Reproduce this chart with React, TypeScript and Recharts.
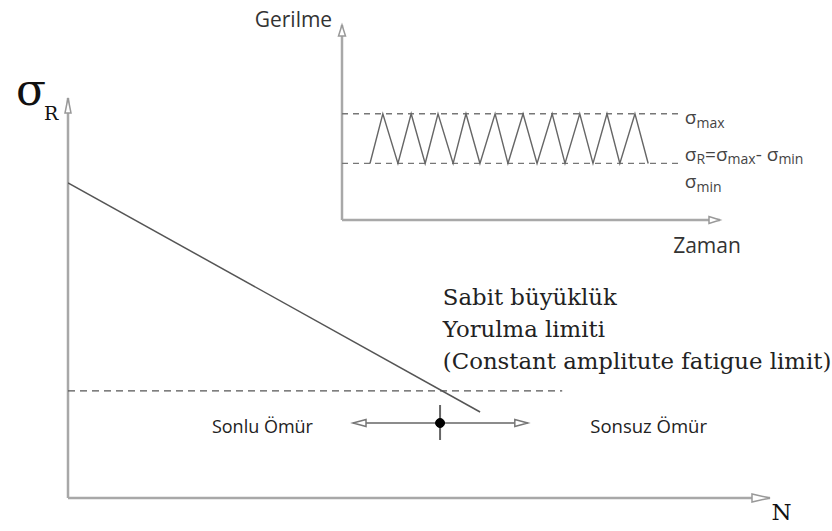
import React from 'react';
import { ComposedChart, Line, XAxis, YAxis, ReferenceLine, ReferenceDot } from 'recharts';

// ---------- Main S-N diagram (N: 0..100, σR: 0..100) ----------
const snCurveX = [0, 58.7];
const snCurveY = [78.8, 21.5];
const fatigueLimit = 26.8;
const fatigueLimitEndN = 70.4;
const limitN = 53.0;
const limitTickY = [14.5, 23.25];
const lifeArrowY = 18.75;
const lifeArrowX = [40.6, 65.5];

// ---------- Inset: stress vs time (0..100 both) ----------
const sigmaMax = 54.5;
const sigmaMin = 29;
const dashedEndT = 88.9;
const cycleT = [7.4, 10.8, 14.8, 18.3, 22.0, 25.4, 29.4, 32.8, 36.5, 40.5, 43.9, 47.9, 51.6, 55.6, 59.0, 62.9, 66.4, 70.1, 73.5, 77.5, 81.0];
const cycleS = [29, 54.5, 29, 54.5, 29, 54.5, 29, 54.5, 29, 54.5, 29, 54.5, 29, 54.5, 29, 54.5, 29, 54.5, 29, 54.5, 29];

const snData = snCurveX.map((x, i) => ({ x, y: snCurveY[i] }));
const cycleData = cycleT.map((x, i) => ({ x, y: cycleS[i] }));

const SANS = '"Open Sans", sans-serif';
const SERIF = '"DejaVu Serif", serif';

type Dir = 'up' | 'down' | 'left' | 'right';
const arrowHead = (dir: Dir, len: number, half: number, stroke: string) => (p: any) => {
  const { cx, cy } = p;
  let pts = '';
  if (dir === 'up') pts = `${cx},${cy} ${cx - half},${cy + len} ${cx + half},${cy + len}`;
  if (dir === 'right') pts = `${cx},${cy} ${cx - len},${cy - half} ${cx - len},${cy + half}`;
  if (dir === 'left') pts = `${cx},${cy} ${cx + len},${cy - half} ${cx + len},${cy + half}`;
  return <polygon points={pts} fill="#fff" stroke={stroke} strokeWidth={1.5} strokeLinejoin="miter" />;
};

const textShape = (content: React.ReactNode, opts: { anchor?: 'start' | 'end' | 'middle'; size: number; family: string; fill?: string }) => (p: any) => (
  <text x={p.cx} y={p.cy} textAnchor={opts.anchor || 'start'} fontSize={opts.size} fontFamily={opts.family} fill={opts.fill || '#222'}>
    {content}
  </text>
);

const SIG = 19;
const SUB = 14;
const sigmaSub = (sub: string) => (
  <>
    <tspan fontSize={SIG}>σ</tspan>
    <tspan fontSize={SUB} dy={4}>{sub}</tspan>
  </>
);

const AXIS_GRAY = '#a8a8a8';
const LINE_GRAY = '#555';

export default function App() {
  return (
    <div style={{ position: 'absolute', left: 0, top: 0, width: 832, height: 531, background: '#fff' }}>
      {/* Main chart */}
      <div style={{ position: 'absolute', left: 0, top: 0 }}>
        <ComposedChart width={832} height={531} margin={{ top: 98, right: 62, bottom: 33, left: 68 }} data={snData}>
          <XAxis type="number" dataKey="x" domain={[0, 100]} hide allowDataOverflow />
          <YAxis type="number" domain={[0, 100]} hide allowDataOverflow />
          <ReferenceLine y={0} stroke={AXIS_GRAY} strokeWidth={2.5} ifOverflow="visible" />
          <ReferenceLine x={0} stroke={AXIS_GRAY} strokeWidth={2.5} ifOverflow="visible" />
          <ReferenceDot x={100} y={0} ifOverflow="visible" shape={arrowHead('right', 18, 4, '#999')} />
          <ReferenceDot x={0} y={100} ifOverflow="visible" shape={arrowHead('up', 15, 3, '#999')} />
          <ReferenceLine
            segment={[{ x: 0, y: fatigueLimit }, { x: fatigueLimitEndN, y: fatigueLimit }]}
            stroke={LINE_GRAY}
            strokeWidth={1.3}
            strokeDasharray="7 5"
            ifOverflow="visible"
          />
          <Line data={snData} dataKey="y" type="linear" stroke={LINE_GRAY} strokeWidth={1.5} dot={false} isAnimationActive={false} />
          <ReferenceLine
            segment={[{ x: lifeArrowX[0], y: lifeArrowY }, { x: lifeArrowX[1], y: lifeArrowY }]}
            stroke="#666"
            strokeWidth={1.3}
            ifOverflow="visible"
          />
          <ReferenceLine
            segment={[{ x: limitN, y: limitTickY[0] }, { x: limitN, y: limitTickY[1] }]}
            stroke="#666"
            strokeWidth={2}
            ifOverflow="visible"
          />
          <ReferenceDot x={lifeArrowX[0]} y={lifeArrowY} ifOverflow="visible" shape={arrowHead('left', 13, 3.5, '#777')} />
          <ReferenceDot x={lifeArrowX[1]} y={lifeArrowY} ifOverflow="visible" shape={arrowHead('right', 13, 3.5, '#777')} />
          <ReferenceDot x={limitN} y={lifeArrowY} r={4.5} fill="#000" stroke="#000" ifOverflow="visible" />

          {/* labels */}
          <ReferenceDot
            x={-7.4}
            y={98.25}
            ifOverflow="visible"
            shape={textShape(
              <>
                <tspan fontSize={44}>σ</tspan>
                <tspan fontSize={19} dx={-2} dy={15}>R</tspan>
              </>,
              { size: 44, family: SERIF, fill: '#111' }
            )}
          />
          <ReferenceDot x={100.2} y={-5.5} ifOverflow="visible" shape={textShape('N', { size: 23, family: SERIF, fill: '#111' })} />
          <ReferenceDot x={34.9} y={16.25} ifOverflow="visible" shape={textShape('Sonlu Ömür', { anchor: 'end', size: 18, family: SANS })} />
          <ReferenceDot x={74.4} y={16.25} ifOverflow="visible" shape={textShape('Sonsuz Ömür', { size: 18.5, family: SANS })} />
          <ReferenceDot x={53.4} y={48.25} ifOverflow="visible" shape={textShape('Sabit büyüklük', { size: 22.8, family: SERIF })} />
          <ReferenceDot x={53.4} y={40.25} ifOverflow="visible" shape={textShape('Yorulma limiti', { size: 22.8, family: SERIF })} />
          <ReferenceDot x={53.4} y={32.25} ifOverflow="visible" shape={textShape('(Constant amplitute fatigue limit)', { size: 22.8, family: SERIF })} />
        </ComposedChart>
      </div>

      {/* Inset chart */}
      <div style={{ position: 'absolute', left: 0, top: 0 }}>
        <ComposedChart width={832} height={531} margin={{ top: 25, right: 112, bottom: 311, left: 342 }} data={cycleData}>
          <XAxis type="number" dataKey="x" domain={[0, 100]} hide allowDataOverflow />
          <YAxis type="number" domain={[0, 100]} hide allowDataOverflow />
          <ReferenceLine y={0} stroke={AXIS_GRAY} strokeWidth={2.5} ifOverflow="visible" />
          <ReferenceLine x={0} stroke={AXIS_GRAY} strokeWidth={2.5} ifOverflow="visible" />
          <ReferenceDot x={100} y={0} ifOverflow="visible" shape={arrowHead('right', 11, 3.5, '#999')} />
          <ReferenceDot x={0} y={100} ifOverflow="visible" shape={arrowHead('up', 11, 3.5, '#999')} />
          <ReferenceLine
            segment={[{ x: 0, y: sigmaMax }, { x: dashedEndT, y: sigmaMax }]}
            stroke="#777"
            strokeWidth={1.3}
            strokeDasharray="6 5"
            ifOverflow="visible"
          />
          <ReferenceLine
            segment={[{ x: 0, y: sigmaMin }, { x: dashedEndT, y: sigmaMin }]}
            stroke="#777"
            strokeWidth={1.3}
            strokeDasharray="6 5"
            ifOverflow="visible"
          />
          <Line data={cycleData} dataKey="y" type="linear" stroke="#666" strokeWidth={1.4} dot={false} isAnimationActive={false} />

          <ReferenceDot x={-2.6} y={99} ifOverflow="visible" shape={textShape('Gerilme', { anchor: 'end', size: 21, family: SANS, fill: '#333' })} />
          <ReferenceDot x={87.6} y={-16.9} ifOverflow="visible" shape={textShape('Zaman', { size: 21, family: SANS, fill: '#333' })} />
          <ReferenceDot x={90.7} y={49.2} ifOverflow="visible" shape={textShape(sigmaSub('max'), { size: SIG, family: SANS, fill: '#444' })} />
          <ReferenceDot
            x={90.7}
            y={30.2}
            ifOverflow="visible"
            shape={textShape(
              <>
                <tspan fontSize={SIG}>σ</tspan>
                <tspan fontSize={SUB} dy={3}>R</tspan>
                <tspan fontSize={SIG} dy={-3}>=σ</tspan>
                <tspan fontSize={SUB} dy={3}>max</tspan>
                <tspan fontSize={SIG} dy={-3}>- σ</tspan>
                <tspan fontSize={SUB} dy={3}>min</tspan>
              </>,
              { size: SIG, family: SANS, fill: '#444' }
            )}
          />
          <ReferenceDot x={90.7} y={16.6} ifOverflow="visible" shape={textShape(sigmaSub('min'), { size: SIG, family: SANS, fill: '#444' })} />
        </ComposedChart>
      </div>
    </div>
  );
}
